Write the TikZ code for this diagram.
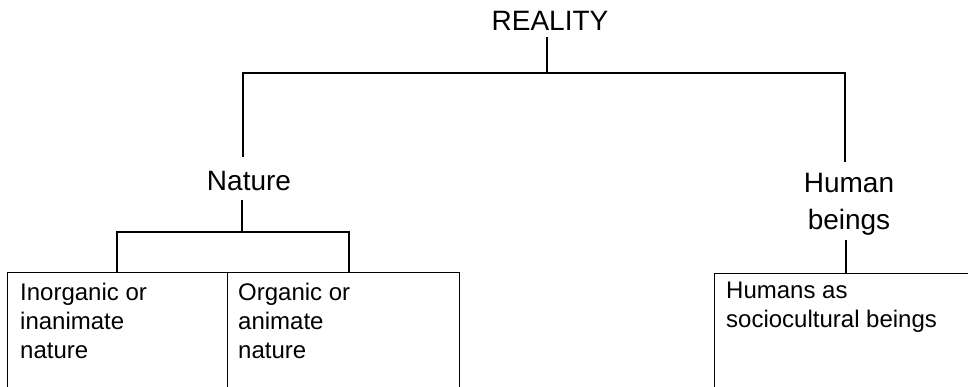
\documentclass[tikz,border=0pt]{standalone}
\usepackage{fontspec}
\setmainfont{Liberation Sans}
\begin{document}
\begin{tikzpicture}[x=1pt,y=-1pt,
  conn/.style={draw=black,line width=1.1pt},
  level/.style={inner sep=0pt,font=\fontsize{28}{37}\selectfont,align=center},
  leaf/.style={draw=black,line width=1.1pt,inner sep=0pt,anchor=north west},
  leaftext/.style={inner sep=0pt,anchor=north west,align=left,font=\fontsize{24}{29}\selectfont}]
\useasboundingbox (0,0) rectangle (968,387);
\clip (0,0) rectangle (968,387);

% headings
\node[level,anchor=base] (reality) at (550,31) {REALITY};
\node[level,anchor=base] (nature) at (249,191) {Nature};
\node[level,anchor=north] (human) at (849,173) {Human\\beings};

% open-bottomed leaf boxes
\node[leaf,minimum width=220pt,minimum height=160pt] (inorg) at (7,272) {};
\node[leaf,minimum width=232pt,minimum height=160pt] (org) at (227,272) {};
\node[leaf,minimum width=300pt,minimum height=160pt] (socio) at (714,273) {};

\node[leaftext] (inorgtext) at (20,283) {Inorganic or\\inanimate\\nature};
\node[leaftext] (orgtext) at (238,283) {Organic or\\animate\\nature};
\node[leaftext] (sociotext) at (726,282) {Humans as\\sociocultural beings};

% junction points of the tree
\coordinate (realityfoot) at (547,37);
\coordinate (topjoin) at (547,73);
\coordinate (naturestem) at (243,157);
\coordinate (humanstem) at (845,162);
\coordinate (naturefoot) at (242,200);
\coordinate (naturejoin) at (242,232);
\coordinate (humanfoot) at (846,240);
\coordinate (inorgtop) at (117,272);
\coordinate (orgtop) at (349,272);

% connectors
\draw[conn] (realityfoot) -- (topjoin);
\draw[conn] (naturestem) |- (topjoin) -| (humanstem);
\draw[conn] (naturefoot) -- (naturejoin);
\draw[conn] (inorgtop) |- (naturejoin) -| (orgtop);
\draw[conn] (humanfoot) -- (humanfoot |- socio.north);
\end{tikzpicture}
\end{document}
